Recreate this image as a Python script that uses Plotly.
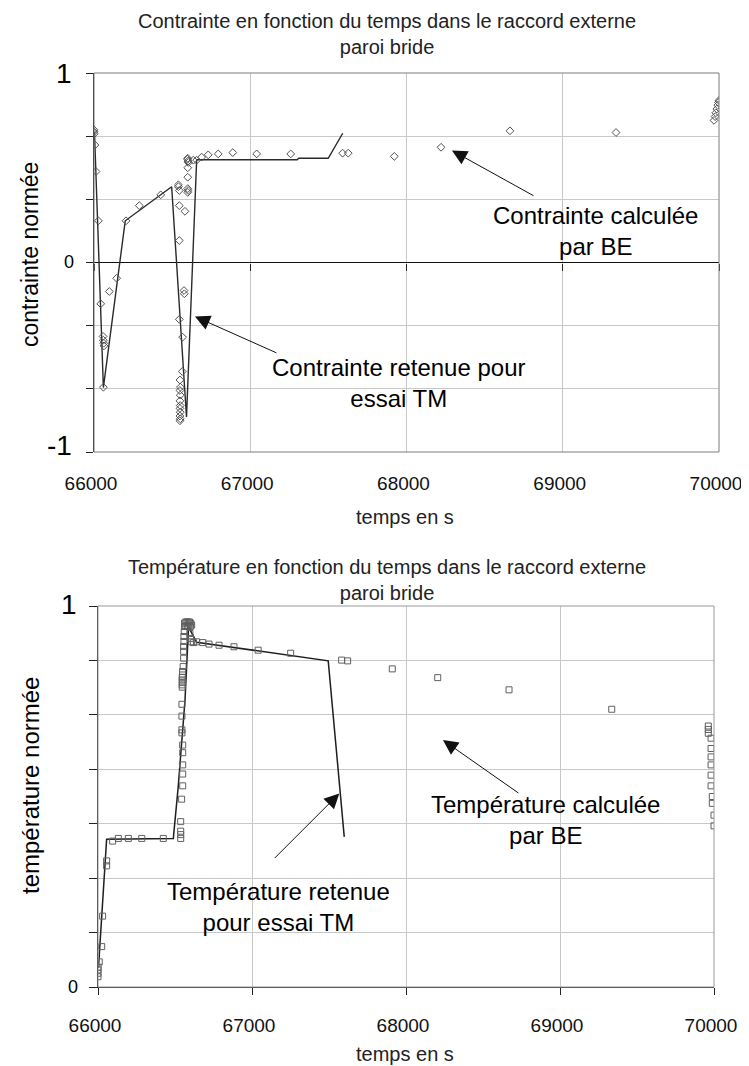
import plotly.graph_objects as go

# the page has an 8px body margin: the figure is offset so that it lines up with the window
OFF = 8
FW, FH = 749 - OFF, 1066 - OFF
FONT = "Liberation Sans, Arial, sans-serif"

# ---------------- data: top chart (contrainte normée) ----------------
stress_line_t = [66003, 66060, 66200, 66497, 66592, 66657, 67300, 67310, 67499, 67592]
stress_line_v = [0.69, -0.66, 0.22, 0.40, -0.815, 0.542, 0.542, 0.55, 0.55, 0.682]

stress_be_t = [66000, 66000, 66002, 66006, 66013, 66028, 66043, 66058, 66060, 66062, 66064,
               66060, 66098, 66145, 66205, 66290, 66427,
               66540, 66540, 66546, 66546, 66546, 66582,
               66600, 66598, 66602, 66604, 66600, 66600, 66600, 66600, 66602,
               66636, 66657, 66689, 66731, 66795, 66888, 67041, 67259, 67591, 67627,
               67922, 68221, 68662, 69341,
               69968, 69975, 69980, 69986, 69992, 69996, 70000,
               66576, 66578, 66546, 66567, 66565, 66550, 66553, 66550, 66552, 66550,
               66552, 66550, 66552, 66550, 66552, 66550]
stress_be_v = [0.70, 0.69, 0.68, 0.62, 0.48, 0.22, -0.218, -0.39, -0.41, -0.426, -0.44,
               -0.658, -0.153, -0.083, 0.22, 0.30, 0.357,
               0.41, 0.40, 0.38, 0.30, 0.116, 0.27,
               0.55, 0.545, 0.535, 0.528, 0.50, 0.45, 0.39, 0.37, 0.38,
               0.54, 0.54, 0.556, 0.568, 0.573, 0.58, 0.573, 0.573, 0.577, 0.577,
               0.56, 0.608, 0.695, 0.686,
               0.75, 0.77, 0.79, 0.81, 0.83, 0.845, 0.855,
               -0.148, -0.165, -0.30, -0.394, -0.575, -0.62, -0.658, -0.675, -0.70, -0.73,
               -0.755, -0.77, -0.79, -0.81, -0.825, -0.835]

# ---------------- data: bottom chart (température normée) ----------------
temp_line_t = [66003, 66019, 66034, 66056, 66489, 66521, 66565, 66582, 66588, 66640, 67495, 67599]
temp_line_v = [0.05, 0.158, 0.255, 0.388, 0.39, 0.526, 0.753, 0.902, 0.945, 0.905, 0.856, 0.394]

temp_be_t = [66000, 66000, 66000, 66001, 66008, 66024, 66030, 66056, 66056, 66095, 66132, 66197, 66284, 66424,
             66537, 66537, 66537, 66537, 66543, 66550, 66550, 66550, 66550, 66550, 66545, 66545, 66545, 66545,
             66547, 66547, 66547, 66547, 66547, 66549, 66549, 66553, 66556, 66556, 66556, 66558, 66558, 66560,
             66562, 66562,
             66570, 66578, 66586, 66594, 66602, 66570, 66580, 66590, 66600, 66608,
             66597, 66600, 66608, 66619, 66640, 66680, 66721, 66786, 66883, 67040, 67251, 67582, 67621,
             67911, 68206, 68669, 69336,
             69963, 69963, 69963, 69981, 69981, 69981, 69981, 69981, 69981, 69989, 69989, 70000, 70000]
temp_be_v = [0.027, 0.036, 0.045, 0.052, 0.066, 0.106, 0.186, 0.318, 0.331, 0.383, 0.39, 0.39, 0.39, 0.39,
             0.39, 0.40, 0.409, 0.434, 0.493, 0.528, 0.559, 0.583, 0.615, 0.635, 0.667, 0.675, 0.711, 0.742,
             0.787, 0.793, 0.799, 0.806, 0.813, 0.819, 0.828, 0.841, 0.863, 0.881, 0.894, 0.907, 0.92, 0.933,
             0.946, 0.955,
             0.958, 0.958, 0.958, 0.958, 0.955, 0.948, 0.948, 0.948, 0.946, 0.95,
             0.928, 0.915, 0.906, 0.904, 0.906, 0.904, 0.90, 0.897, 0.893, 0.884, 0.876, 0.858, 0.856,
             0.835, 0.812, 0.78, 0.729,
             0.685, 0.676, 0.666, 0.653, 0.626, 0.604, 0.583, 0.556, 0.528, 0.50, 0.482, 0.451, 0.423]

# ---------------- axes / labels ----------------
x_ticks = [66000, 67000, 68000, 69000, 70000]
x_tick_labels = ["66000", "67000", "68000", "69000", "70000"]
stress_grid = [-1, -2/3, -1/3, 0, 1/3, 2/3, 1]
temp_grid = [k / 7 for k in range(8)]

title_top = "Contrainte en fonction du temps dans le raccord externe<br>paroi bride"
title_bot = "Température en fonction du temps dans le raccord externe<br>paroi bride"


def px(x):
    return (x - OFF) / FW


def py(y):
    return 1 - (y - OFF) / FH


fig = go.Figure()

# top chart traces
fig.add_trace(go.Scatter(x=stress_line_t, y=stress_line_v, mode="lines",
                         line=dict(color="#2a2a2a", width=1.4), xaxis="x", yaxis="y",
                         hoverinfo="skip"))
fig.add_trace(go.Scatter(x=stress_be_t, y=stress_be_v, mode="markers",
                         marker=dict(symbol="diamond-open", size=6, color="#505050",
                                     line=dict(width=1, color="#505050")),
                         xaxis="x", yaxis="y"))
# empty trace carrying the tick axis drawn on the zero line
fig.add_trace(go.Scatter(x=[], y=[], xaxis="x3", yaxis="y3", hoverinfo="skip"))

# bottom chart traces
fig.add_trace(go.Scatter(x=temp_line_t, y=temp_line_v, mode="lines",
                         line=dict(color="#1e1e1e", width=1.5), xaxis="x2", yaxis="y2",
                         hoverinfo="skip"))
fig.add_trace(go.Scatter(x=temp_be_t, y=temp_be_v, mode="markers",
                         marker=dict(symbol="square-open", size=6, color="#606060",
                                     line=dict(width=1, color="#606060")),
                         xaxis="x2", yaxis="y2"))

grid_c = "#c8c8c8"
xdom_top = [px(94), px(719)]
ydom_top = [py(452), py(73)]
xdom_bot = [px(98), px(714)]
ydom_bot = [py(987), py(606)]

fig.update_layout(
    width=FW, height=FH,
    margin=dict(l=0, r=0, t=0, b=0, pad=0, autoexpand=False),
    paper_bgcolor="white", plot_bgcolor="rgba(0,0,0,0)",
    showlegend=False,
    font=dict(family=FONT, color="#000000"),
    xaxis=dict(domain=xdom_top, anchor="y", range=[66000, 70000], automargin=False,
               tickvals=x_ticks, ticktext=x_tick_labels, ticks="", ticklabelstandoff=18,
               ticklabelshift=-3, ticklabeloverflow="allow",
               tickfont=dict(size=19, family=FONT, color="#111"),
               showgrid=True, gridcolor=grid_c, gridwidth=1,
               showline=False, zeroline=False),
    yaxis=dict(domain=ydom_top, anchor="x", range=[-1, 1], automargin=False,
               tickvals=stress_grid, ticktext=[""] * len(stress_grid),
               ticks="outside", ticklen=7, tickcolor="#222",
               showgrid=True, gridcolor=grid_c, gridwidth=1,
               showline=True, linecolor="#222", linewidth=1,
               zeroline=True, zerolinecolor="#111", zerolinewidth=1),
    # helper axis: x ticks on the zero line of the top chart
    xaxis3=dict(domain=xdom_top, anchor="y3", range=[66000, 70000], automargin=False,
                tickvals=x_ticks, ticks="outside", ticklen=7, tickcolor="#222",
                showticklabels=False, showgrid=False, showline=False, zeroline=False),
    yaxis3=dict(domain=[py(262.5), py(73)], anchor="x3", range=[0, 1], visible=False,
                automargin=False),
    xaxis2=dict(domain=xdom_bot, anchor="y2", range=[66000, 70000], automargin=False,
                tickvals=x_ticks, ticktext=x_tick_labels, ticks="outside", ticklen=7,
                tickcolor="#222", ticklabelstandoff=14, ticklabelshift=-3,
                ticklabeloverflow="allow",
                tickfont=dict(size=19, family=FONT, color="#111"),
                showgrid=True, gridcolor=grid_c, gridwidth=1,
                showline=True, linecolor="#222", linewidth=1, zeroline=False),
    yaxis2=dict(domain=ydom_bot, anchor="x2", range=[0, 1], automargin=False,
                tickvals=temp_grid, ticktext=[""] * len(temp_grid),
                ticks="outside", ticklen=8, tickcolor="#222",
                showgrid=True, gridcolor=grid_c, gridwidth=1,
                showline=True, linecolor="#222", linewidth=1, zeroline=False),
)

# plot frames (top / right borders)
fig.add_shape(type="rect", xref="x domain", yref="y domain", x0=0, x1=1, y0=0, y1=1,
              line=dict(color="#7a7a7a", width=1), layer="above")
fig.add_shape(type="rect", xref="x2 domain", yref="y2 domain", x0=0, x1=1, y0=0, y1=1,
              line=dict(color="#999999", width=1), layer="above")

ann = []


def text(x, y, s, size, color="#000", angle=0, xanchor="center"):
    ann.append(dict(x=px(x), y=py(y), xref="paper", yref="paper", text=s, showarrow=False,
                    xanchor=xanchor, yanchor="middle", textangle=angle,
                    font=dict(family=FONT, size=size, color=color)))


# titles
text(387, 34, title_top, 20, "#222")
text(387, 580, title_bot, 20, "#222")

# axis titles
text(405, 517, "temps en s", 20, "#222")
text(405, 1054, "temps en s", 20, "#222")
text(30, 255, "contrainte normée", 23, "#000", angle=-90)
text(30, 786, "température normée", 24, "#000", angle=-90)

# y tick labels (Excel style sizes)
text(74, 73, "1", 28, xanchor="right")
text(76, 262, "0", 18, xanchor="right")
text(74, 445, "-1", 28, xanchor="right")
text(79, 604, "1", 28, xanchor="right")
text(80, 987, "0", 18, xanchor="right")

# callout texts
text(595, 231, "Contrainte calculée<br>par BE", 24)
text(399, 383, "Contrainte retenue pour<br>essai TM", 24)
text(545, 820, "Température calculée<br>par BE", 24)
text(278, 907, "Température retenue<br>pour essai TM", 24)

# arrows
arrow_style = dict(showarrow=True, arrowhead=2, arrowsize=3, arrowwidth=1,
                   arrowcolor="#111", text="", standoff=0)
ann.append(dict(x=68291, y=0.591, xref="x", yref="y", ax=83, ay=46, **arrow_style))
ann.append(dict(x=66646, y=-0.285, xref="x", yref="y", ax=83, ay=37, **arrow_style))
ann.append(dict(x=67567, y=0.508, xref="x2", yref="y2", ax=-66, ay=66, **arrow_style))
ann.append(dict(x=68240, y=0.648, xref="x2", yref="y2", ax=77, ay=54, **arrow_style))

fig.update_layout(annotations=ann)

fig.write_html("out.html")
